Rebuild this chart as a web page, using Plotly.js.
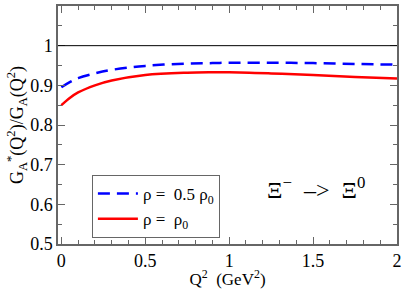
<!DOCTYPE html>
<html><head><meta charset="utf-8">
<script src="https://cdn.plot.ly/plotly-3.0.1.min.js"></script>
<style>html,body{margin:0;padding:0;background:#fff;}</style>
</head><body>
<div id="chart" style="width:402px;height:289px;"></div>
<script>
const q2 = [0, 0.05, 0.1, 0.2, 0.3, 0.5, 0.75, 0.9, 1.0, 1.25, 1.5, 1.75, 2.0];
const halfRho = [0.895, 0.908, 0.918, 0.930, 0.939, 0.949, 0.955, 0.956, 0.957, 0.957, 0.956, 0.954, 0.952];
const fullRho = [0.850, 0.868, 0.882, 0.900, 0.912, 0.926, 0.932, 0.933, 0.933, 0.930, 0.926, 0.921, 0.917];
const seriesNames = ["ρ =  0.5 ρ<sub>0</sub>", "ρ =  ρ<sub>0</sub>"];
const xTicks = [0, 0.5, 1, 1.5, 2];
const xTickText = ["0", "0.5", "1", "1.5", "2"];
const yTicks = [0.5, 0.6, 0.7, 0.8, 0.9, 1, 1.1];
const yTickText = ["0.5", "0.6", "0.7", "0.8", "0.9", "1", "1.1"];

const FAM = "Liberation Serif";
const f = (s) => ({family: FAM, size: s, color: "#000"});
const traces = [
  {x: q2, y: halfRho, mode: "lines", name: seriesNames[0], line: {color: "#0000ff", width: 2.5, dash: "12px,7px", shape: "spline"}},
  {x: q2, y: fullRho, mode: "lines", name: seriesNames[1], line: {color: "#ff0000", width: 2.5, shape: "spline"}}
];
const axisCommon = {
  showgrid: false, zeroline: false, showline: true, linecolor: "#666", linewidth: 1.5,
  mirror: "ticks", ticks: "inside", ticklen: 7, tickcolor: "#666", tickwidth: 1,
  tickfont: f(18)
};
const layout = {
  width: 402, height: 289,
  margin: {l: 58, r: 5, t: 6, b: 45},
  paper_bgcolor: "#fff", plot_bgcolor: "#fff",
  font: f(16),
  showlegend: true,
  legend: {x: 0.1, y: 0.29, xanchor: "left", yanchor: "top", bordercolor: "#666", borderwidth: 1,
           bgcolor: "#fff", font: f(17), tracegroupgap: 0, itemwidth: 40},
  xaxis: Object.assign({}, axisCommon, {range: [-0.02, 2], tickvals: xTicks, ticktext: xTickText,
    minor: {dtick: 0.1, ticks: "inside", ticklen: 4, tickcolor: "#666", showgrid: false},
    title: {text: "Q<sup>2</sup>  (GeV<sup>2</sup>)", font: f(17), standoff: 5}}),
  yaxis: Object.assign({}, axisCommon, {range: [0.5, 1.1], tickvals: yTicks, ticktext: yTickText,
    minor: {dtick: 0.05, ticks: "inside", ticklen: 4, tickcolor: "#666", showgrid: false},
    title: {text: "G<sub>A</sub><sup>*</sup>(Q<sup>2</sup>)/G<sub>A</sub>(Q<sup>2</sup>)", font: f(18), standoff: 2}}),
  shapes: [{type: "line", xref: "paper", x0: 0, x1: 1, yref: "y", y0: 1, y1: 1, line: {color: "#000", width: 1}}],
  annotations: [{text: "Ξ<sup>−</sup>  –>  Ξ<sup>0</sup>", xref: "paper", yref: "paper", x: 0.61, y: 0.165,
    xanchor: "left", showarrow: false, font: f(24)}]
};
Plotly.newPlot("chart", traces, layout, {displayModeBar: false});
</script>
</body></html>
